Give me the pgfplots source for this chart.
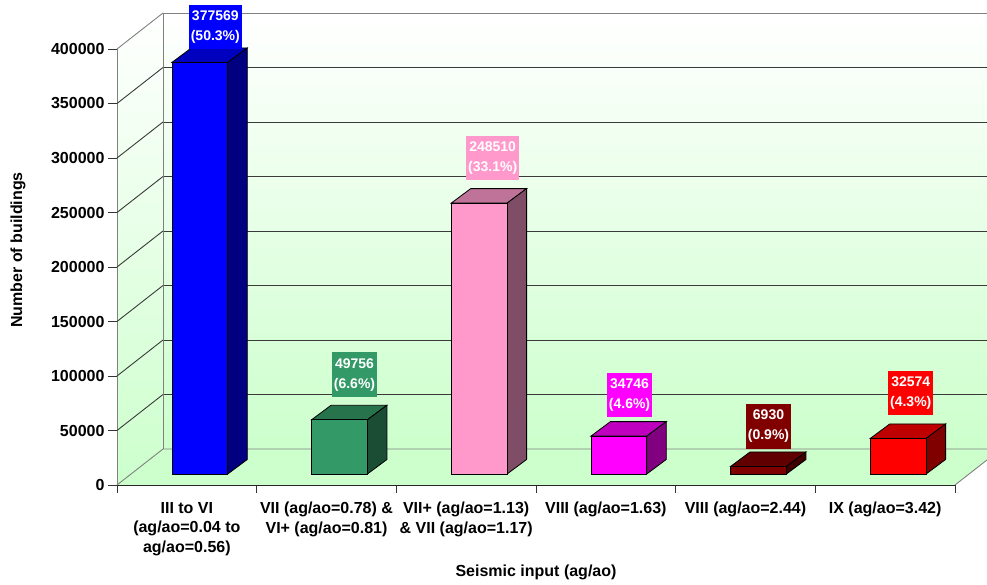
\documentclass[border=0pt]{standalone}
\usepackage{pgfplots}
\pgfplotsset{compat=1.18}
\usepackage{pgfplotstable}
\usepackage{fontspec}
\setmainfont{Liberation Sans}

\definecolor{wallgreen}{HTML}{CCFFCC}
\definecolor{floorgreen}{HTML}{CCFFCC}
\definecolor{gridgray}{HTML}{3A3A3A}
\definecolor{edgegray}{HTML}{808080}

% bar colours: front face (f), top face (t), side face (s)
\definecolor{f0}{HTML}{0000FF}\definecolor{t0}{HTML}{0000BF}\definecolor{s0}{HTML}{000080}
\definecolor{f1}{HTML}{339966}\definecolor{t1}{HTML}{26734C}\definecolor{s1}{HTML}{1A4D33}
\definecolor{f2}{HTML}{FF99CC}\definecolor{t2}{HTML}{BF7399}\definecolor{s2}{HTML}{804D66}
\definecolor{f3}{HTML}{FF00FF}\definecolor{t3}{HTML}{BF00BF}\definecolor{s3}{HTML}{800080}
\definecolor{f4}{HTML}{800000}\definecolor{t4}{HTML}{600000}\definecolor{s4}{HTML}{400000}
\definecolor{f5}{HTML}{FF0000}\definecolor{t5}{HTML}{BF0000}\definecolor{s5}{HTML}{800000}

% number of buildings per seismic input class; ldx/ldy place the value box
\pgfplotstableread{
x    val     pct   ldx   ldy
0.5  377569  50.3  15.5  35.5
1.5  49756   6.6   15    45
2.5  248510  33.1  13.5  45
3.5  34746   4.6   10.7  41
4.5  6930    0.9   10    40
5.5  32574   4.3   12.6  45.5
}\buildings

\tikzset{lbl/.style={text=white, font=\bfseries\fontsize{14}{20}\selectfont,
  align=center, inner xsep=2pt, inner ysep=6pt, anchor=center}}

\begin{document}
\begin{tikzpicture}
\useasboundingbox (0,0) rectangle (987pt,585pt);

% back wall with horizontal gridlines, plus side wall and floor
\begin{axis}[
  name=back, at={(163pt,136pt)}, anchor=south west,
  scale only axis, width=838pt, height=436pt,
  xmin=0, xmax=6, ymin=0, ymax=400000, enlargelimits=false, clip=false,
  hide axis,
]
\shade[top color=white, bottom color=wallgreen]
  (axis cs:0,0) rectangle (axis cs:6,400000);
\pgfplotsinvokeforeach{50000,100000,150000,200000,250000,300000,350000}{
  \draw[gridgray, line width=0.9pt] (axis cs:0,#1) -- (axis cs:6,#1);
}
\shade[top color=white, bottom color=wallgreen]
  (axis cs:0,0) -- ++(-46pt,-36pt) -- ([shift={(-46pt,-36pt)}]axis cs:0,400000)
  -- (axis cs:0,400000) -- cycle;
\fill[floorgreen] (axis cs:0,0) -- (axis cs:6,0) -- ++(-46pt,-36pt)
  -- ([shift={(-46pt,-36pt)}]axis cs:0,0) -- cycle;
\draw[edgegray, line width=0.9pt] (axis cs:0,0) -- (axis cs:0,400000) -- (axis cs:6,400000);
\draw[edgegray, line width=0.9pt] (axis cs:0,0) -- (axis cs:6,0) -- ++(-46pt,-36pt);
\end{axis}

% front axes: value axis, category axis, side wall gridlines
\begin{axis}[
  name=front, at={(117pt,100pt)}, anchor=south west,
  scale only axis, width=838pt, height=436pt,
  xmin=0, xmax=6, ymin=0, ymax=400000, enlargelimits=false, clip=false,
  axis x line*=bottom, axis y line*=left,
  x axis line style={draw=black!85, line width=0.9pt},
  y axis line style={draw=edgegray, line width=0.9pt},
  tick align=outside,
  ytick distance=50000, scaled y ticks=false,
  yticklabel style={/pgf/number format/1000 sep={}, /pgf/number format/fixed},
  /pgf/number format/assume math mode=true,
  tick label style={font=\bfseries\fontsize{16}{19.5}\selectfont},
  y tick style={draw=black!80, line width=0.9pt},
  major tick length=9pt,
  xtick={0.5,1.5,2.5,3.5,4.5,5.5},
  xticklabels={
    {III to VI\\(ag/ao=0.04 to\\ag/ao=0.56)},
    {VII (ag/ao=0.78) \&\\VI+ (ag/ao=0.81)},
    {VII+ (ag/ao=1.13)\\\& VII (ag/ao=1.17)},
    {VIII (ag/ao=1.63)},
    {VIII (ag/ao=2.44)},
    {IX (ag/ao=3.42)}},
  xticklabel style={align=center, anchor=north, yshift=-4.5pt},
  major x tick style={draw=none},
  minor xtick={0,1,2,3,4,5,6},
  minor tick length=8pt,
  minor x tick style={draw=black!80, line width=0.9pt},
  xlabel={Seismic input (ag/ao)},
  ylabel={Number of buildings},
  label style={font=\bfseries\fontsize{16}{19}\selectfont},
  xlabel style={at={(axis description cs:0.5,-0.1995)}, anchor=center},
  ylabel style={at={(axis description cs:-0.118,0.539)}, anchor=center},
]
\pgfplotsinvokeforeach{50000,100000,150000,200000,250000,300000,350000}{
  \draw[gridgray, line width=0.9pt] (axis cs:0,#1) -- ++(46pt,36pt);
}
\draw[edgegray, line width=0.9pt] (axis cs:0,400000) -- ++(46pt,36pt);
\draw[edgegray, line width=0.9pt] (axis cs:0,0) -- ++(46pt,36pt);
\end{axis}

% 3-D bars: front faces are the bar plots, top and side faces follow from the same values
\begin{axis}[
  name=bars, at={(130pt,111pt)}, anchor=south west,
  scale only axis, width=838pt, height=436pt,
  xmin=0, xmax=6, ymin=0, ymax=400000, enlargelimits=false, clip=false,
  hide axis,
]
\pgfplotsinvokeforeach{0,...,5}{
  \pgfplotstablegetelem{#1}{x}\of\buildings \let\bx\pgfplotsretval
  \pgfplotstablegetelem{#1}{val}\of\buildings \let\bv\pgfplotsretval
  \pgfplotstablegetelem{#1}{pct}\of\buildings \let\bp\pgfplotsretval
  \pgfplotstablegetelem{#1}{ldx}\of\buildings \let\lx\pgfplotsretval
  \pgfplotstablegetelem{#1}{ldy}\of\buildings \let\ly\pgfplotsretval
  \pgfmathsetmacro\xl{\bx-0.2}
  \pgfmathsetmacro\xr{\bx+0.2}
  \edef\drawbar{%
    \noexpand\fill[t#1, draw=black, line width=0.8pt]
      (axis cs:\xl,\bv) -- (axis cs:\xr,\bv)
      -- ([shift={(19.5pt,14.5pt)}]axis cs:\xr,\bv)
      -- ([shift={(19.5pt,14.5pt)}]axis cs:\xl,\bv) -- cycle;
    \noexpand\fill[s#1, draw=black, line width=0.8pt]
      (axis cs:\xr,0) -- (axis cs:\xr,\bv)
      -- ([shift={(19.5pt,14.5pt)}]axis cs:\xr,\bv)
      -- ([shift={(19.5pt,14.5pt)}]axis cs:\xr,0) -- cycle;
    \noexpand\addplot[ybar, bar width=0.4, bar shift=0pt, draw=black,
      line width=0.8pt, fill=f#1] coordinates {(\bx,\bv)};
    \noexpand\node[lbl, fill=f#1, xshift=\lx pt, yshift=\ly pt]
      at (axis cs:\bx,\bv) {\bv\noexpand\\(\bp\noexpand\%)};
  }%
  \drawbar
}
\end{axis}
\end{tikzpicture}
\end{document}
